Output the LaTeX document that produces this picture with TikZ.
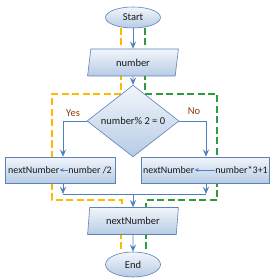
\documentclass[tikz,border=0pt]{standalone}
\usepackage{fontspec}
\setmainfont{Carlito}
\usetikzlibrary{positioning, arrows.meta, shapes.geometric, backgrounds, calc}
\definecolor{ink}{HTML}{1A1A1A}
\definecolor{edge}{HTML}{5B83B8}
\definecolor{flowc}{HTML}{4F81BD}
\definecolor{shtop}{HTML}{F2F6FB}
\definecolor{shbot}{HTML}{B7CBE5}
\definecolor{yespath}{HTML}{FFB900}
\definecolor{nopath}{HTML}{2E9B3F}
\definecolor{lblc}{HTML}{8B3A0E}
\tikzset{
  blk/.style={draw=edge, line width=0.6pt, top color=shtop, bottom color=shbot,
    text=ink, font=\fontsize{10.5}{12}\selectfont, inner sep=0pt},
  term/.style={blk, ellipse, minimum width=55pt},
  io/.style={blk, trapezium, trapezium left angle=80, trapezium right angle=100,
    minimum width=91pt, minimum height=27pt, trapezium stretches=true},
  cond/.style={blk, diamond, minimum width=92pt, minimum height=53pt},
  proc/.style={blk, rectangle, minimum height=26pt},
  txt/.style={font=\fontsize{10}{12}\selectfont, text=ink, inner sep=0pt},
  lbl/.style={font=\fontsize{10.5}{12}\selectfont, text=lblc, inner sep=0pt},
  flow/.style={-{Stealth[length=2.6mm, width=2.2mm, inset=1mm]}, line width=0.7pt, color=flowc},
  assign/.style={-{Stealth[length=1.5mm, width=1.4mm, inset=0.6mm]}, line width=0.6pt, color=flowc},
  trace/.style={dashed, dash pattern=on 7pt off 3.5pt, line width=2.8pt},
}
\begin{document}
\begin{tikzpicture}[x=1pt, y=-1pt]
  \useasboundingbox (0,0) rectangle (277,280);
  \node[term, minimum height=21pt] (start) at (133,17.5) {Start};
  \node[io] (num) at (133,62.5) {number};
  \node[cond] (dec) at (133,121) {number\% 2 = 0};
  \node[proc, minimum width=110pt] (lbox) at (60,170) {};
  \node[proc, minimum width=128pt] (rbox) at (205,170) {};
  \node[io] (out) at (133,221) {nextNumber};
  \node[term, minimum height=25pt] (stop) at (133,264.5) {End};
  % box contents
  \node[txt, anchor=west] (lvar) at (8,170) {nextNumber};
  \node[txt, anchor=east] (lexpr) at (112,170) {number /2};
  \node[txt, anchor=west] (rvar) at (143,170) {nextNumber};
  \node[txt, anchor=east] (rexpr) at (268,170) {number*3+1};
  \node[lbl] (yes) at (73,113) {Yes};
  \node[lbl] (no) at (194,111) {No};
  % trace corners
  \coordinate (yesTop) at (52,94);
  \coordinate (yesBot) at (52,200);
  \coordinate (noTop) at (217,94);
  \coordinate (noBot) at (217,200);
  \coordinate (mrg) at (133,194);
  \begin{scope}[on background layer]
    \draw[trace, yespath] ([xshift=-12pt]start.center) -- ([xshift=-12pt]num.center);
    \draw[trace, yespath] ([xshift=-12pt]num.center) |- (yesTop) -- (yesBot) -| ([xshift=-11pt]out.center);
    \draw[trace, yespath] ([xshift=-12pt]out.center) -- ([xshift=-12pt]stop.center);
    \draw[trace, nopath] ([xshift=12pt]start.center) -- ([xshift=12pt]num.center);
    \draw[trace, nopath] ([xshift=12pt]num.center) |- (noTop) -- (noBot) -| ([xshift=13pt]out.center);
    \draw[trace, nopath] ([xshift=13pt]out.center) -- ([xshift=13pt]stop.center);
  \end{scope}
  \draw[flow] (start) -- (num);
  \draw[flow] (num) -- (dec);
  \draw[flow] (dec.west) -| ([xshift=3pt]lbox.north);
  \draw[flow] (dec.east) -| ([xshift=1pt]rbox.north);
  \draw[flow] ([xshift=3pt]lbox.south) -- ([xshift=3pt]lbox.south |- mrg);
  \draw[flow] ([xshift=1pt]rbox.south) -- ([xshift=1pt]rbox.south |- mrg);
  \draw[flowc, line width=0.7pt] ([xshift=3pt]lbox.south |- mrg) -- ([xshift=1pt]rbox.south |- mrg);
  \draw[flow] (mrg) -- (out);
  \draw[flow] (out) -- (stop);
  \draw[assign] (lexpr) -- (lvar);
  \draw[assign] (rexpr) -- (rvar);
\end{tikzpicture}
\end{document}
